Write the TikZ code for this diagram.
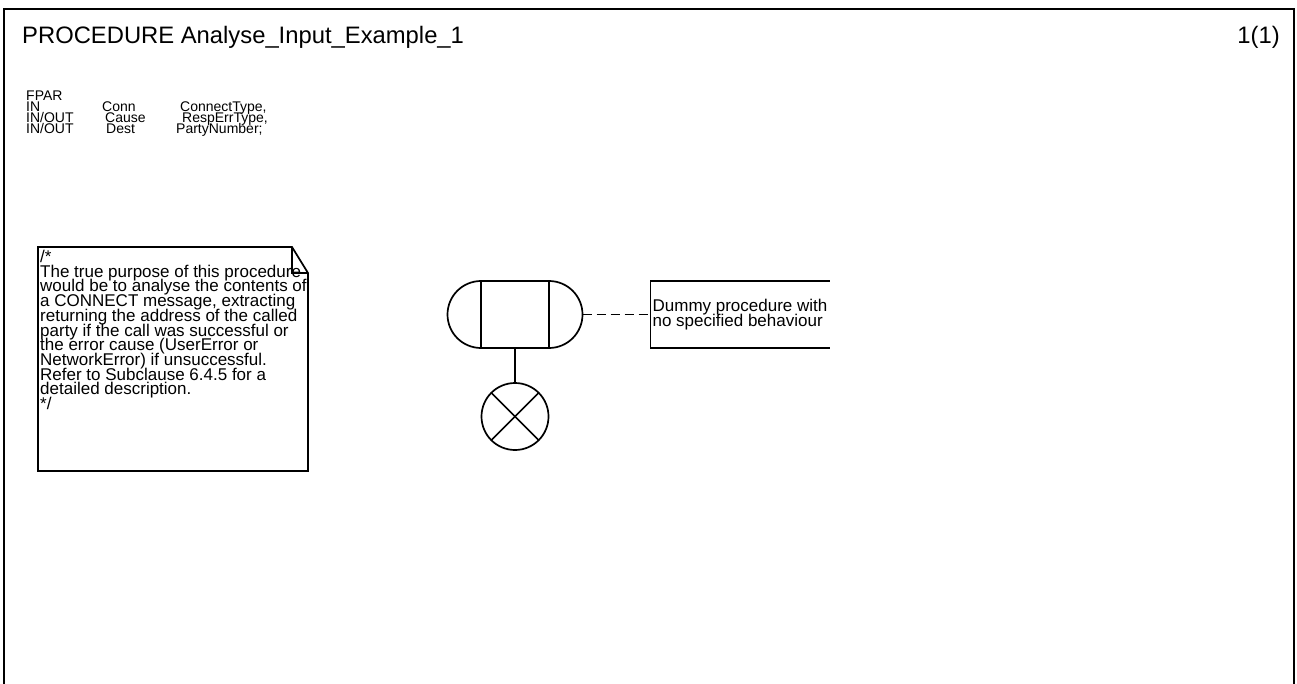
\documentclass[tikz,border=0pt]{standalone}
\usepackage{fontspec}
\setmainfont{Liberation Sans}
\usetikzlibrary{positioning}

\begin{document}
\begin{tikzpicture}[x=1pt,y=-1pt]
	% size of the symbols
	\def\lw{1.7pt}
	\def\symh{67pt}
	\def\symw{68pt}
	\def\rad{33.5}
	% tightly set text, lines may touch
	\def\tight{\fontsize{17}{14.7}\selectfont\lineskiplimit=-20pt}
	% node style definition
	\tikzstyle{heading} = [draw=none, inner sep=0pt, anchor=base west, font=\fontsize{23.8}{26}\selectfont];
	\tikzstyle{fpar} = [draw=none, inner sep=0pt, anchor=base west, font=\fontsize{14}{14}\selectfont];
	\tikzstyle{remark} = [draw=none, inner sep=0pt, anchor=north west, align=left, font=\tight];
	\tikzstyle{procstart} = [draw, line width=\lw, rectangle, minimum height=\symh, minimum width=\symw, inner sep=0pt, outer sep=0pt];
	\tikzstyle{procstop} = [draw, line width=\lw, circle, minimum size=\symh, inner sep=0pt, outer sep=0pt];
	\tikzstyle{textext} = [draw=none, rectangle, minimum height=\symh, minimum width=179pt, inner sep=0pt, outer sep=0pt, align=left, font=\tight];
	\useasboundingbox (0,0) rectangle (1297,684);
	% page frame, open at the bottom
	\draw[line width=\lw] (4,684) -- (4,9) -- (1294,9) -- (1294,684);
	\node[heading] (title) at (22,44) {PROCEDURE Analyse\_Input\_Example\_1};
	\node[heading, anchor=base east] (page) at (1280,44) {1(1)};
	% formal parameters
	\node[fpar] (fpar) at (26,101) {FPAR};
	\foreach \y/\kind/\var/\vx/\type/\tx [count=\i] in {112/IN/Conn/102/{ConnectType,}/180,
			123/{IN/OUT}/Cause/105/{RespErrType,}/182,
			134/{IN/OUT}/Dest/106/{PartyNumber;}/176} {
		\node[fpar] (kind\i) at (26,\y) {\kind};
		\node[fpar] (var\i) at (\vx,\y) {\var};
		\node[fpar] (type\i) at (\tx,\y) {\type};
	}
	% comment with folded corner
	\draw[line width=\lw] (38,247) -- (292,247) -- (308,273) -- (308,471) -- (38,471) -- cycle;
	\draw[line width=\lw] (292,247) |- (308,273);
	\node[remark] (comment) at (40,250) {/*\\
		The true purpose of this procedure\\
		would be to analyse the contents of\\
		a CONNECT message, extracting\\
		returning the address of the called\\
		party if the call was successful or\\
		the error cause (UserError or\\
		NetworkError) if unsuccessful.\\
		Refer to Subclause 6.4.5 for a\\
		detailed description.\\
		*/};
	% procedure start
	\node[procstart] (start) at (515,314.5) {};
	\draw[line width=\lw] (start.north east) arc[start angle=-90, end angle=90, radius=\rad];
	\draw[line width=\lw] (start.north west) arc[start angle=-90, end angle=-270, radius=\rad];
	\coordinate (startend) at ([xshift=\rad pt]start.east);
	% return
	\node[procstop, below=35pt of start] (stop) {};
	\draw[line width=\lw] (stop.north east) -- (stop.south west);
	\draw[line width=\lw] (stop.north west) -- (stop.south east);
	\draw[line width=\lw] (start) -- (stop);
	% text extension
	\node[textext, right=68pt of startend] (dummy) {Dummy procedure with\\no specified behaviour};
	\draw[line width=\lw] (dummy.north east) -- (dummy.north west) -- (dummy.south west) -- (dummy.south east);
	\draw[line width=\lw, dash pattern=on 9pt off 5pt] (startend) -- (dummy.west);
\end{tikzpicture}
\end{document}
